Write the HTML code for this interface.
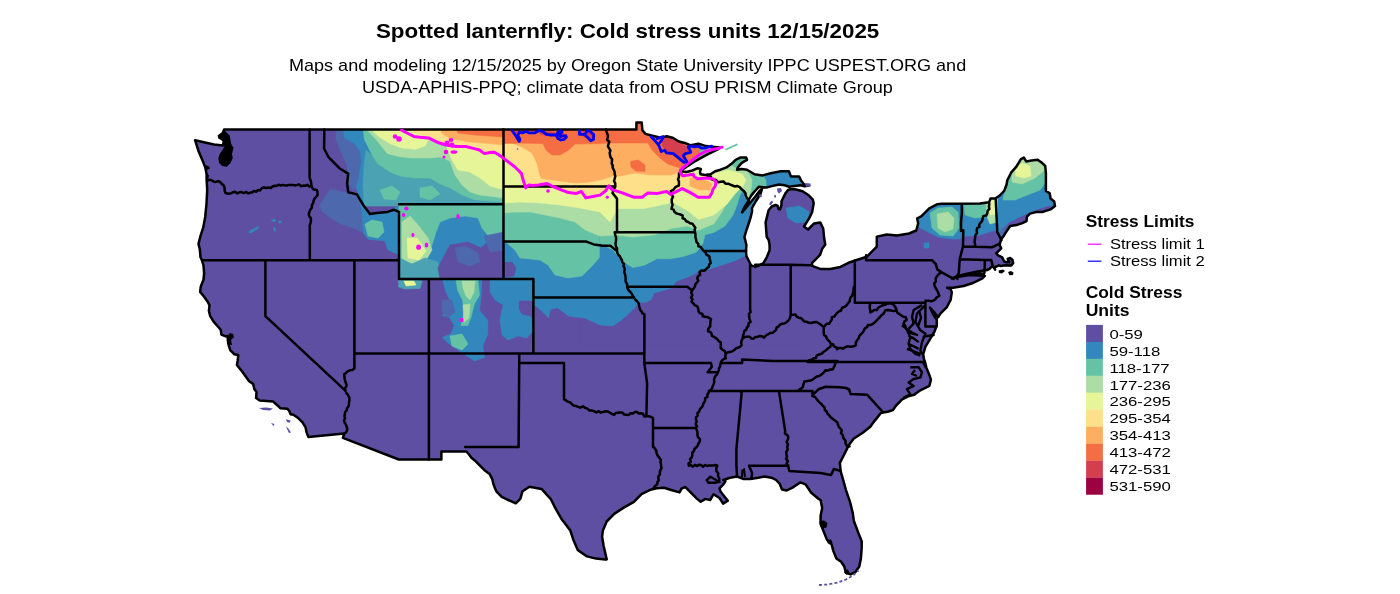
<!DOCTYPE html>
<html><head><meta charset="utf-8"><title>Spotted lanternfly: Cold stress units</title>
<style>html,body{margin:0;padding:0;background:#fff;}body{width:1400px;height:594px;position:relative;overflow:hidden;font-family:"Liberation Sans",sans-serif;}</style>
</head><body>
<svg width="1400" height="594" viewBox="0 0 1400 594" style="position:absolute;left:0;top:0">
<defs><clipPath id="us"><path d="M195.1,140.2 L205.0,142.5 L214.0,144.5 L222.7,145.6 L224.0,141.0 L222.5,134.0 L224.1,129.5 L636.4,129.5 L636.4,122.6 L641.7,122.6 L642.4,130.2 L645.5,133.9 L651.5,135.5 L660.6,137.7 L666.7,136.2 L672.7,137.7 L678.8,141.5 L684.8,143.0 L690.9,145.3 L698.5,143.8 L706.1,146.1 L712.1,146.8 L719.7,147.6 L718.2,149.1 L706.1,155.2 L693.9,162.0 L684.8,168.0 L680.3,171.1 L686.4,172.0 L692.4,170.5 L697.7,168.2 L700.8,168.9 L700.0,172.0 L700.5,174.2 L705.3,175.0 L710.6,174.2 L715.2,171.2 L720.5,169.7 L726.5,167.4 L731.8,163.6 L735.6,159.8 L740.2,157.6 L746.2,157.6 L747.0,159.8 L741.7,162.9 L737.9,167.4 L737.1,169.7 L741.7,168.9 L747.0,169.7 L750.8,172.0 L754.5,174.3 L762.6,175.4 L770.7,173.3 L780.8,171.3 L788.9,171.3 L790.9,176.4 L799.0,176.4 L801.0,180.4 L805.0,185.5 L809.1,185.5 L804.6,186.2 L800.6,185.2 L796.6,185.7 L789.1,186.8 L784.5,185.3 L779.2,184.5 L771.7,186.1 L766.4,187.6 L758.8,186.8 L755.0,191.0 L751.0,196.0 L747.0,203.0 L744.0,208.0 L742.1,212.3 L745.0,209.0 L750.0,203.0 L755.0,197.0 L759.5,191.0 L762.0,189.0 L760.5,194.0 L756.0,201.0 L752.0,208.0 L752.0,211.8 L750.5,217.9 L748.2,225.0 L746.5,230.0 L744.4,237.0 L745.2,240.0 L746.4,245.0 L746.0,250.8 L746.4,256.0 L748.9,261.0 L751.0,265.3 L755.3,266.9 L759.5,265.3 L763.7,262.7 L767.0,256.8 L769.6,250.1 L769.6,245.0 L768.7,240.0 L766.7,237.0 L765.6,222.4 L767.1,216.4 L768.6,210.3 L771.7,206.5 L775.5,205.0 L777.7,206.0 L778.4,209.0 L780.0,209.4 L781.5,205.0 L781.5,201.2 L783.0,198.2 L785.3,193.6 L788.0,190.0 L791.0,189.0 L796.0,189.5 L802.6,191.3 L808.7,195.3 L812.7,199.3 L813.7,203.4 L812.1,212.3 L809.1,218.4 L804.0,226.5 L808.1,229.5 L814.1,223.4 L820.2,222.4 L823.2,228.5 L824.2,238.6 L825.3,244.6 L822.2,248.7 L820.2,254.7 L816.2,258.8 L812.1,262.8 L812.1,265.9 L820.2,268.9 L830.3,268.9 L840.4,266.9 L848.5,262.8 L854.5,260.8 L866.7,256.8 L876.8,246.7 L876.8,236.6 L886.9,234.5 L897.0,235.6 L909.1,233.5 L916.2,230.5 L918.2,223.4 L917.2,218.4 L921.2,216.4 L929.3,208.3 L937.4,204.2 L941.4,203.8 L980.0,203.6 L989.1,202.3 L990.6,198.5 L995.2,198.5 L999.7,195.5 L1004.2,190.9 L1006.5,184.8 L1007.3,180.3 L1011.1,172.7 L1016.4,166.7 L1020.9,159.1 L1023.9,157.6 L1026.2,161.4 L1031.5,160.6 L1037.6,159.8 L1042.1,162.9 L1045.2,165.9 L1045.9,172.7 L1045.9,180.3 L1045.9,190.9 L1049.7,193.2 L1050.5,198.5 L1054.2,201.5 L1055.0,206.1 L1051.2,209.1 L1046.7,210.6 L1042.1,212.1 L1036.1,212.1 L1030.0,213.6 L1027.0,216.7 L1026.5,221.1 L1022.4,223.1 L1016.4,225.1 L1010.3,226.1 L1007.3,230.2 L1004.2,235.2 L1001.2,239.2 L1000.2,242.3 L999.7,245.3 L1001.2,248.3 L998.2,251.4 L996.2,253.4 L998.2,255.4 L1002.2,257.4 L1004.2,261.5 L1006.6,262.3 L1009.5,262.2 L1008.3,260.6 L1007.7,258.9 L1010.1,258.0 L1012.4,259.8 L1013.2,263.0 L1011.3,265.5 L1005.4,265.2 L1000.7,266.0 L998.9,265.3 L994.2,267.7 L991.8,266.5 L989.5,268.9 L987.1,270.0 L978.9,271.2 L967.1,273.6 L957.7,275.9 L952.0,278.5 L958.8,276.8 L969.4,275.1 L978.9,275.6 L984.8,275.9 L982.4,278.3 L973.0,283.0 L963.6,286.0 L953.0,287.7 L947.1,287.7 L950.6,288.9 L951.8,292.4 L950.6,300.0 L946.7,307.3 L940.6,313.3 L938.2,317.2 L934.0,312.0 L930.0,307.5 L932.5,313.0 L935.5,318.0 L936.8,319.4 L936.8,325.5 L934.5,331.5 L930.0,339.1 L925.5,346.7 L923.2,354.2 L923.9,358.8 L925.0,362.0 L926.4,367.6 L929.4,375.2 L930.9,379.7 L929.4,385.8 L920.3,390.3 L914.2,394.8 L908.2,396.4 L902.1,399.4 L896.1,405.5 L893.0,410.0 L888.5,411.5 L880.9,413.0 L874.8,420.6 L870.3,426.7 L862.7,432.7 L853.6,438.8 L849.1,444.8 L847.3,448.1 L843.3,456.2 L839.9,462.9 L840.6,471.0 L843.3,480.4 L845.9,489.8 L850.0,501.9 L852.7,512.7 L853.8,520.6 L858.5,533.2 L861.7,541.1 L861.7,547.5 L860.9,558.5 L859.3,566.5 L855.4,572.0 L850.6,574.4 L845.9,572.8 L844.3,566.5 L841.1,561.7 L836.4,558.5 L833.2,550.6 L831.6,544.3 L826.9,539.6 L823.7,531.6 L820.6,523.7 L820.6,515.8 L822.2,507.9 L820.6,500.0 L819.0,499.2 L811.0,492.5 L805.6,484.4 L800.2,482.4 L793.5,487.1 L786.7,490.5 L782.0,489.5 L779.6,483.6 L776.1,480.0 L771.4,477.7 L764.3,476.5 L758.4,477.7 L750.2,478.9 L743.1,478.9 L737.2,476.5 L730.1,477.7 L723.1,480.0 L725.4,481.2 L723.1,484.7 L719.5,488.3 L720.7,491.8 L725.4,497.7 L727.8,500.7 L723.1,503.6 L719.5,498.0 L713.6,494.2 L710.1,500.1 L705.4,498.9 L700.7,501.8 L697.1,498.9 L693.6,495.4 L688.9,490.6 L685.4,487.1 L681.8,488.3 L679.5,492.4 L671.2,490.0 L664.1,487.7 L656.7,488.2 L650.6,489.7 L641.5,494.2 L633.9,501.8 L623.3,507.9 L614.2,513.9 L606.7,521.5 L602.9,530.6 L602.1,536.7 L603.6,545.8 L606.7,559.4 L605.2,559.6 L596.0,558.6 L587.0,556.4 L577.9,550.3 L573.3,539.7 L570.3,530.6 L561.2,518.5 L555.2,507.9 L550.6,498.8 L541.5,488.9 L529.4,486.7 L522.6,491.2 L520.3,498.8 L515.8,503.3 L507.1,499.5 L501.7,496.8 L496.3,491.4 L493.6,484.7 L492.3,479.3 L489.6,473.9 L484.2,469.9 L480.2,465.8 L474.8,460.4 L471.4,457.7 L469.4,455.0 L466.4,451.5 L441.4,451.5 L441.4,459.5 L398.8,459.5 L342.9,437.8 L344.3,433.5 L308.4,437.1 L306.6,432.4 L305.6,427.4 L302.5,422.3 L298.5,418.3 L293.4,414.7 L290.4,414.2 L289.4,411.2 L287.4,408.7 L280.3,408.2 L277.3,405.2 L273.2,401.6 L259.6,400.6 L256.1,398.1 L256.5,392.0 L254.4,389.3 L253.1,383.9 L249.1,381.2 L242.3,371.8 L236.9,365.0 L237.6,361.0 L238.3,354.9 L234.2,354.2 L230.2,350.2 L228.2,343.5 L227.5,336.0 L225.7,336.4 L221.4,334.7 L220.8,330.0 L218.3,327.0 L213.6,321.6 L210.2,316.2 L208.9,310.8 L209.5,305.4 L207.5,301.4 L203.5,296.0 L200.1,291.9 L200.8,286.5 L203.5,279.8 L204.1,273.1 L203.5,265.5 L201.8,260.0 L200.5,257.3 L199.8,249.3 L198.5,243.9 L200.5,235.8 L203.2,227.7 L205.2,216.9 L206.5,203.5 L207.2,190.0 L206.6,179.3 L206.6,173.9 L205.2,167.2 L202.5,160.4 L198.5,151.0 Z"/></clipPath></defs>
<path d="M195.1,140.2 L205.0,142.5 L214.0,144.5 L222.7,145.6 L224.0,141.0 L222.5,134.0 L224.1,129.5 L636.4,129.5 L636.4,122.6 L641.7,122.6 L642.4,130.2 L645.5,133.9 L651.5,135.5 L660.6,137.7 L666.7,136.2 L672.7,137.7 L678.8,141.5 L684.8,143.0 L690.9,145.3 L698.5,143.8 L706.1,146.1 L712.1,146.8 L719.7,147.6 L718.2,149.1 L706.1,155.2 L693.9,162.0 L684.8,168.0 L680.3,171.1 L686.4,172.0 L692.4,170.5 L697.7,168.2 L700.8,168.9 L700.0,172.0 L700.5,174.2 L705.3,175.0 L710.6,174.2 L715.2,171.2 L720.5,169.7 L726.5,167.4 L731.8,163.6 L735.6,159.8 L740.2,157.6 L746.2,157.6 L747.0,159.8 L741.7,162.9 L737.9,167.4 L737.1,169.7 L741.7,168.9 L747.0,169.7 L750.8,172.0 L754.5,174.3 L762.6,175.4 L770.7,173.3 L780.8,171.3 L788.9,171.3 L790.9,176.4 L799.0,176.4 L801.0,180.4 L805.0,185.5 L809.1,185.5 L804.6,186.2 L800.6,185.2 L796.6,185.7 L789.1,186.8 L784.5,185.3 L779.2,184.5 L771.7,186.1 L766.4,187.6 L758.8,186.8 L755.0,191.0 L751.0,196.0 L747.0,203.0 L744.0,208.0 L742.1,212.3 L745.0,209.0 L750.0,203.0 L755.0,197.0 L759.5,191.0 L762.0,189.0 L760.5,194.0 L756.0,201.0 L752.0,208.0 L752.0,211.8 L750.5,217.9 L748.2,225.0 L746.5,230.0 L744.4,237.0 L745.2,240.0 L746.4,245.0 L746.0,250.8 L746.4,256.0 L748.9,261.0 L751.0,265.3 L755.3,266.9 L759.5,265.3 L763.7,262.7 L767.0,256.8 L769.6,250.1 L769.6,245.0 L768.7,240.0 L766.7,237.0 L765.6,222.4 L767.1,216.4 L768.6,210.3 L771.7,206.5 L775.5,205.0 L777.7,206.0 L778.4,209.0 L780.0,209.4 L781.5,205.0 L781.5,201.2 L783.0,198.2 L785.3,193.6 L788.0,190.0 L791.0,189.0 L796.0,189.5 L802.6,191.3 L808.7,195.3 L812.7,199.3 L813.7,203.4 L812.1,212.3 L809.1,218.4 L804.0,226.5 L808.1,229.5 L814.1,223.4 L820.2,222.4 L823.2,228.5 L824.2,238.6 L825.3,244.6 L822.2,248.7 L820.2,254.7 L816.2,258.8 L812.1,262.8 L812.1,265.9 L820.2,268.9 L830.3,268.9 L840.4,266.9 L848.5,262.8 L854.5,260.8 L866.7,256.8 L876.8,246.7 L876.8,236.6 L886.9,234.5 L897.0,235.6 L909.1,233.5 L916.2,230.5 L918.2,223.4 L917.2,218.4 L921.2,216.4 L929.3,208.3 L937.4,204.2 L941.4,203.8 L980.0,203.6 L989.1,202.3 L990.6,198.5 L995.2,198.5 L999.7,195.5 L1004.2,190.9 L1006.5,184.8 L1007.3,180.3 L1011.1,172.7 L1016.4,166.7 L1020.9,159.1 L1023.9,157.6 L1026.2,161.4 L1031.5,160.6 L1037.6,159.8 L1042.1,162.9 L1045.2,165.9 L1045.9,172.7 L1045.9,180.3 L1045.9,190.9 L1049.7,193.2 L1050.5,198.5 L1054.2,201.5 L1055.0,206.1 L1051.2,209.1 L1046.7,210.6 L1042.1,212.1 L1036.1,212.1 L1030.0,213.6 L1027.0,216.7 L1026.5,221.1 L1022.4,223.1 L1016.4,225.1 L1010.3,226.1 L1007.3,230.2 L1004.2,235.2 L1001.2,239.2 L1000.2,242.3 L999.7,245.3 L1001.2,248.3 L998.2,251.4 L996.2,253.4 L998.2,255.4 L1002.2,257.4 L1004.2,261.5 L1006.6,262.3 L1009.5,262.2 L1008.3,260.6 L1007.7,258.9 L1010.1,258.0 L1012.4,259.8 L1013.2,263.0 L1011.3,265.5 L1005.4,265.2 L1000.7,266.0 L998.9,265.3 L994.2,267.7 L991.8,266.5 L989.5,268.9 L987.1,270.0 L978.9,271.2 L967.1,273.6 L957.7,275.9 L952.0,278.5 L958.8,276.8 L969.4,275.1 L978.9,275.6 L984.8,275.9 L982.4,278.3 L973.0,283.0 L963.6,286.0 L953.0,287.7 L947.1,287.7 L950.6,288.9 L951.8,292.4 L950.6,300.0 L946.7,307.3 L940.6,313.3 L938.2,317.2 L934.0,312.0 L930.0,307.5 L932.5,313.0 L935.5,318.0 L936.8,319.4 L936.8,325.5 L934.5,331.5 L930.0,339.1 L925.5,346.7 L923.2,354.2 L923.9,358.8 L925.0,362.0 L926.4,367.6 L929.4,375.2 L930.9,379.7 L929.4,385.8 L920.3,390.3 L914.2,394.8 L908.2,396.4 L902.1,399.4 L896.1,405.5 L893.0,410.0 L888.5,411.5 L880.9,413.0 L874.8,420.6 L870.3,426.7 L862.7,432.7 L853.6,438.8 L849.1,444.8 L847.3,448.1 L843.3,456.2 L839.9,462.9 L840.6,471.0 L843.3,480.4 L845.9,489.8 L850.0,501.9 L852.7,512.7 L853.8,520.6 L858.5,533.2 L861.7,541.1 L861.7,547.5 L860.9,558.5 L859.3,566.5 L855.4,572.0 L850.6,574.4 L845.9,572.8 L844.3,566.5 L841.1,561.7 L836.4,558.5 L833.2,550.6 L831.6,544.3 L826.9,539.6 L823.7,531.6 L820.6,523.7 L820.6,515.8 L822.2,507.9 L820.6,500.0 L819.0,499.2 L811.0,492.5 L805.6,484.4 L800.2,482.4 L793.5,487.1 L786.7,490.5 L782.0,489.5 L779.6,483.6 L776.1,480.0 L771.4,477.7 L764.3,476.5 L758.4,477.7 L750.2,478.9 L743.1,478.9 L737.2,476.5 L730.1,477.7 L723.1,480.0 L725.4,481.2 L723.1,484.7 L719.5,488.3 L720.7,491.8 L725.4,497.7 L727.8,500.7 L723.1,503.6 L719.5,498.0 L713.6,494.2 L710.1,500.1 L705.4,498.9 L700.7,501.8 L697.1,498.9 L693.6,495.4 L688.9,490.6 L685.4,487.1 L681.8,488.3 L679.5,492.4 L671.2,490.0 L664.1,487.7 L656.7,488.2 L650.6,489.7 L641.5,494.2 L633.9,501.8 L623.3,507.9 L614.2,513.9 L606.7,521.5 L602.9,530.6 L602.1,536.7 L603.6,545.8 L606.7,559.4 L605.2,559.6 L596.0,558.6 L587.0,556.4 L577.9,550.3 L573.3,539.7 L570.3,530.6 L561.2,518.5 L555.2,507.9 L550.6,498.8 L541.5,488.9 L529.4,486.7 L522.6,491.2 L520.3,498.8 L515.8,503.3 L507.1,499.5 L501.7,496.8 L496.3,491.4 L493.6,484.7 L492.3,479.3 L489.6,473.9 L484.2,469.9 L480.2,465.8 L474.8,460.4 L471.4,457.7 L469.4,455.0 L466.4,451.5 L441.4,451.5 L441.4,459.5 L398.8,459.5 L342.9,437.8 L344.3,433.5 L308.4,437.1 L306.6,432.4 L305.6,427.4 L302.5,422.3 L298.5,418.3 L293.4,414.7 L290.4,414.2 L289.4,411.2 L287.4,408.7 L280.3,408.2 L277.3,405.2 L273.2,401.6 L259.6,400.6 L256.1,398.1 L256.5,392.0 L254.4,389.3 L253.1,383.9 L249.1,381.2 L242.3,371.8 L236.9,365.0 L237.6,361.0 L238.3,354.9 L234.2,354.2 L230.2,350.2 L228.2,343.5 L227.5,336.0 L225.7,336.4 L221.4,334.7 L220.8,330.0 L218.3,327.0 L213.6,321.6 L210.2,316.2 L208.9,310.8 L209.5,305.4 L207.5,301.4 L203.5,296.0 L200.1,291.9 L200.8,286.5 L203.5,279.8 L204.1,273.1 L203.5,265.5 L201.8,260.0 L200.5,257.3 L199.8,249.3 L198.5,243.9 L200.5,235.8 L203.2,227.7 L205.2,216.9 L206.5,203.5 L207.2,190.0 L206.6,179.3 L206.6,173.9 L205.2,167.2 L202.5,160.4 L198.5,151.0 Z" fill="#5E4FA2"/>
<g clip-path="url(#us)"><path d="M319.7,204.4 L330.3,189.2 L345.5,192.3 L353.0,192.3 L360.6,201.4 L369.7,213.5 L378.8,213.5 L390.9,210.5 L398.5,205.9 L398.5,255.0 L387.9,249.8 L384.8,240.8 L368.2,239.2 L363.6,233.2 L354.5,228.6 L345.5,225.6 L337.9,222.6 L330.3,218.0 L321.2,210.5Z" fill="#4E68AD" stroke="#4E68AD" stroke-width="0.6"/><path d="M336.0,125.0 L343.0,125.0 L344.3,137.9 L354.3,143.6 L360.0,150.8 L361.5,160.8 L360.0,170.8 L358.6,179.4 L355.8,188.0 L352.0,190.0 L348.0,180.0 L347.0,165.0 L340.0,150.0 L336.0,140.0Z" fill="#4E68AD" stroke="#4E68AD" stroke-width="0.6"/><path d="M342.9,125.0 L344.3,137.9 L354.3,143.6 L360.0,150.8 L361.5,160.8 L360.0,170.8 L358.6,179.4 L355.8,188.0 L358.6,193.7 L362.0,205.0 L400.0,205.0 L400.0,210.0 L505.0,210.0 L505.0,125.0Z" fill="#3288BD" stroke="#3288BD" stroke-width="0.6"/><path d="M366.0,150.0 L372.9,156.5 L378.0,164.0 L390.0,172.0 L400.0,176.0 L415.0,178.0 L430.0,178.0 L440.0,184.0 L450.0,188.0 L462.0,195.0 L475.0,200.0 L490.0,201.0 L505.0,202.0 L505.0,206.0 L400.0,206.0 L364.0,206.0 L363.0,185.0 L364.0,165.0Z" fill="#4AA2B2" stroke="#4AA2B2" stroke-width="0.6"/><path d="M380.0,190.0 L392.0,186.0 L400.0,192.0 L396.0,200.0 L384.0,199.0Z" fill="#66C2A5" stroke="#66C2A5" stroke-width="0.6"/><path d="M420.0,188.0 L432.0,186.0 L440.0,194.0 L430.0,200.0 L420.0,197.0Z" fill="#66C2A5" stroke="#66C2A5" stroke-width="0.6"/><path d="M360.6,201.4 L369.7,213.5 L378.8,213.5 L390.9,210.5 L398.5,205.9 L400.0,206.0 L400.0,255.0 L387.9,249.8 L384.8,240.8 L368.2,239.2 L363.6,233.2 L362.0,215.0Z" fill="#3288BD" stroke="#3288BD" stroke-width="0.6"/><path d="M365.0,224.0 L372.0,220.0 L382.0,222.0 L384.0,232.0 L378.0,238.0 L368.0,236.0Z" fill="#66C2A5" stroke="#66C2A5" stroke-width="0.6"/><path d="M362.9,125.0 L364.3,139.3 L368.6,147.9 L372.9,156.5 L378.0,164.0 L390.0,172.0 L400.0,176.0 L415.0,178.0 L430.0,178.0 L440.0,184.0 L450.0,188.0 L462.0,195.0 L475.0,200.0 L490.0,201.0 L505.0,202.0 L505.0,125.0Z" fill="#66C2A5" stroke="#66C2A5" stroke-width="0.6"/><path d="M367.0,125.0 L368.0,131.0 L377.2,140.7 L387.2,153.6 L398.7,156.5 L410.0,157.9 L430.0,157.9 L440.0,157.0 L450.0,161.0 L455.0,175.0 L462.0,185.0 L470.0,192.0 L480.0,195.0 L505.0,198.0 L505.0,125.0Z" fill="#ABDDA4" stroke="#ABDDA4" stroke-width="0.6"/><path d="M372.9,125.0 L373.0,131.0 L378.6,136.4 L390.0,143.6 L401.5,147.9 L415.8,149.3 L425.0,146.0 L428.0,140.0 L418.7,133.6 L410.0,130.7 L408.0,125.0Z" fill="#E6F598" stroke="#E6F598" stroke-width="0.6"/><path d="M445.8,145.0 L452.0,160.0 L458.0,170.0 L470.0,172.0 L480.0,178.0 L490.0,186.0 L505.0,190.0 L505.0,158.0 L494.4,153.2 L484.4,154.6 L474.4,149.6 L465.8,147.5 L455.8,147.5Z" fill="#E6F598" stroke="#E6F598" stroke-width="0.6"/><path d="M408.0,125.0 L410.0,130.7 L418.7,133.6 L428.6,137.9 L437.2,142.2 L445.8,145.5 L455.8,147.5 L465.8,147.5 L474.4,149.6 L484.4,154.6 L494.4,153.2 L505.0,158.5 L505.0,125.0Z" fill="#FEE08B" stroke="#FEE08B" stroke-width="0.6"/><path d="M441.5,125.0 L441.5,133.0 L450.0,138.6 L470.0,142.0 L490.0,143.6 L505.0,145.0 L505.0,125.0Z" fill="#FDAE61" stroke="#FDAE61" stroke-width="0.6"/><path d="M455.0,125.0 L458.0,133.0 L475.0,135.0 L490.0,136.0 L505.0,137.0 L505.0,125.0Z" fill="#F46D43" stroke="#F46D43" stroke-width="0.6"/><path d="M399.0,204.0 L504.0,204.0 L504.0,279.0 L399.0,279.0Z" fill="#3288BD" stroke="#3288BD" stroke-width="0.6"/><path d="M399.0,204.0 L504.0,204.0 L504.0,242.0 L490.0,238.0 L482.0,228.0 L478.0,218.0 L465.0,216.0 L450.0,218.0 L440.0,222.0 L436.0,232.0 L432.0,245.0 L425.0,258.0 L412.0,264.0 L399.0,262.0Z" fill="#66C2A5" stroke="#66C2A5" stroke-width="0.6"/><path d="M402.0,222.0 L410.0,216.0 L418.0,225.0 L428.0,238.0 L432.0,250.0 L425.0,262.0 L410.0,264.0 L402.0,258.0Z" fill="#ABDDA4" stroke="#ABDDA4" stroke-width="0.6"/><path d="M407.0,238.0 L417.0,238.0 L426.0,251.0 L419.0,260.0 L408.0,258.0Z" fill="#E6F598" stroke="#E6F598" stroke-width="0.6"/><path d="M399.0,258.0 L412.0,264.0 L425.0,258.0 L438.0,262.0 L440.0,279.0 L399.0,279.0Z" fill="#4AA2B2" stroke="#4AA2B2" stroke-width="0.6"/><path d="M440.0,279.0 L438.0,268.0 L444.0,256.0 L450.0,245.0 L468.0,242.0 L481.0,248.0 L490.0,240.0 L504.0,240.0 L504.0,280.0Z" fill="#5E4FA2" stroke="#5E4FA2" stroke-width="0.6"/><path d="M484.0,236.0 L504.0,232.0 L504.0,250.0 L490.0,252.0Z" fill="#4E68AD" stroke="#4E68AD" stroke-width="0.6"/><path d="M455.0,248.0 L466.0,246.0 L478.0,253.0 L480.0,262.0 L470.0,266.0 L458.0,262.0Z" fill="#4E68AD" stroke="#4E68AD" stroke-width="0.6"/><path d="M398.6,279.3 L410.0,278.0 L422.2,281.0 L420.0,288.5 L405.0,289.0 L398.6,287.0Z" fill="#4AA2B2" stroke="#4AA2B2" stroke-width="0.6"/><path d="M404.0,281.0 L414.0,281.0 L416.0,285.0 L406.0,286.0Z" fill="#E6F598" stroke="#E6F598" stroke-width="0.6"/><path d="M442.4,279.0 L482.0,279.0 L481.1,295.3 L479.5,310.4 L487.9,320.5 L487.9,334.0 L482.8,345.8 L484.5,357.6 L474.4,361.0 L464.3,354.2 L449.2,344.1 L442.4,337.4 L450.8,334.0 L454.2,325.6 L449.2,317.2 L442.4,315.5 L450.8,302.0 L445.8,291.9Z" fill="#3288BD" stroke="#3288BD" stroke-width="0.6"/><path d="M442.0,300.0 L452.0,300.0 L455.0,312.0 L448.0,318.0 L442.0,312.0Z" fill="#4E68AD" stroke="#4E68AD" stroke-width="0.6"/><path d="M455.9,279.0 L477.8,279.0 L479.5,295.3 L474.4,303.7 L471.0,317.2 L467.7,325.6 L460.9,325.6 L464.3,312.1 L462.6,300.3 L457.6,290.2Z" fill="#66C2A5" stroke="#66C2A5" stroke-width="0.6"/><path d="M462.0,281.0 L475.0,281.0 L474.0,292.0 L470.0,300.0 L466.0,296.0 L463.0,288.0Z" fill="#ABDDA4" stroke="#ABDDA4" stroke-width="0.6"/><path d="M463.0,305.0 L470.0,304.0 L469.0,318.0 L464.0,322.0Z" fill="#ABDDA4" stroke="#ABDDA4" stroke-width="0.6"/><path d="M450.0,336.0 L462.0,334.0 L468.0,344.0 L462.0,350.0 L452.0,346.0Z" fill="#66C2A5" stroke="#66C2A5" stroke-width="0.6"/><path d="M489.6,279.0 L533.5,279.0 L533.5,304.3 L540.0,309.4 L548.6,318.0 L550.3,309.4 L557.2,307.7 L569.2,316.3 L584.6,318.0 L600.0,324.9 L617.2,326.6 L634.3,312.9 L642.9,300.9 L651.4,294.0 L660.0,290.6 L660.0,270.0 L505.0,270.0 L505.0,279.0Z" fill="#3288BD" stroke="#3288BD" stroke-width="0.6"/><path d="M490.0,279.0 L533.5,279.0 L533.5,300.0 L530.0,312.0 L533.5,330.0 L527.0,338.0 L518.0,336.0 L508.0,340.0 L502.0,335.0 L500.0,320.0 L503.0,305.0 L495.0,300.0 L490.0,292.0Z" fill="#3288BD" stroke="#3288BD" stroke-width="0.6"/><path d="M519.4,301.0 L531.4,300.9 L533.5,310.0 L531.4,316.3 L522.0,314.0 L519.0,308.0Z" fill="#5E4FA2" stroke="#5E4FA2" stroke-width="0.6"/><path d="M503.0,210.0 L620.0,210.0 L620.0,290.0 L503.0,290.0Z" fill="#3288BD" stroke="#3288BD" stroke-width="0.6"/><path d="M503.5,262.5 L512.0,262.0 L516.0,268.0 L514.0,276.0 L503.5,277.0Z" fill="#5E4FA2" stroke="#5E4FA2" stroke-width="0.6"/><path d="M503.5,213.0 L515.0,212.0 L530.0,212.0 L545.0,215.0 L560.0,218.0 L575.0,222.0 L585.0,230.0 L600.0,236.0 L616.0,236.0 L615.0,243.0 L610.0,250.0 L600.0,257.0 L592.0,266.0 L582.0,276.0 L568.0,278.0 L555.0,275.0 L548.0,265.0 L540.0,260.0 L530.0,259.0 L520.0,258.0 L515.0,250.0 L507.0,243.0 L503.5,240.0Z" fill="#66C2A5" stroke="#66C2A5" stroke-width="0.6"/><path d="M600.0,236.0 L725.0,195.0 L740.0,185.0 L752.0,180.0 L752.0,310.0 L600.0,310.0Z" fill="#3288BD" stroke="#3288BD" stroke-width="0.6"/><path d="M600.0,243.5 L613.1,250.0 L621.9,261.0 L632.8,267.5 L643.8,265.4 L656.9,258.8 L670.0,258.8 L683.2,256.6 L696.3,252.2 L702.9,243.5 L705.0,234.7 L713.8,232.5 L725.0,226.0 L733.0,215.0 L737.0,205.0 L740.0,195.0 L745.0,188.0 L745.0,180.0 L600.0,180.0Z" fill="#66C2A5" stroke="#66C2A5" stroke-width="0.6"/><path d="M580.0,345.0 L580.0,320.7 L591.8,326.6 L603.6,327.8 L613.0,326.6 L621.3,320.7 L629.5,313.6 L635.4,307.7 L638.9,303.0 L646.0,303.0 L651.9,299.5 L654.3,293.6 L662.5,291.2 L670.8,288.9 L674.3,285.3 L676.7,281.8 L686.1,278.3 L694.3,274.7 L697.9,272.4 L709.4,269.7 L722.6,265.4 L735.7,261.0 L744.5,256.6 L752.0,253.0 L800.0,250.0 L800.0,345.0Z" fill="#5E4FA2" stroke="#5E4FA2" stroke-width="0.6"/><path d="M503.5,200.0 L615.0,200.0 L616.0,235.0 L632.8,236.9 L654.7,234.7 L672.2,228.2 L687.5,226.0 L698.5,230.3 L713.8,223.8 L722.0,212.0 L728.0,200.0 L733.0,192.0 L737.0,186.0 L737.0,180.0 L503.5,180.0Z" fill="#ABDDA4" stroke="#ABDDA4" stroke-width="0.6"/><path d="M503.5,200.0 L503.5,213.0 L515.0,212.0 L530.0,212.0 L545.0,215.0 L560.0,218.0 L575.0,222.0 L585.0,230.0 L600.0,236.0 L616.0,235.0 L616.0,200.0Z" fill="#ABDDA4" stroke="#ABDDA4" stroke-width="0.6"/><path d="M503.5,150.0 L503.5,203.0 L520.0,202.0 L540.0,203.0 L560.0,205.0 L580.0,208.0 L600.0,212.0 L610.0,222.0 L617.5,208.5 L643.8,208.5 L665.7,204.1 L672.2,201.9 L687.5,210.6 L698.5,219.4 L713.8,215.0 L727.0,204.1 L735.7,193.1 L742.3,186.6 L742.0,175.0 L530.0,175.0 L520.0,160.0 L503.5,150.0Z" fill="#E6F598" stroke="#E6F598" stroke-width="0.6"/><path d="M680.0,168.0 L700.0,164.0 L716.0,168.0 L718.0,180.0 L700.0,180.0 L685.0,178.0Z" fill="#E6F598" stroke="#E6F598" stroke-width="0.6"/><path d="M503.5,125.0 L503.5,158.5 L508.7,162.2 L514.3,166.5 L521.5,173.6 L522.9,179.3 L525.7,187.9 L528.6,185.1 L538.6,185.1 L547.2,183.6 L552.9,186.5 L560.0,189.4 L567.2,192.2 L575.8,193.6 L581.5,191.5 L585.8,197.9 L593.0,196.5 L600.1,195.1 L605.8,190.8 L608.7,185.8 L611.6,189.4 L613.6,190.1 L622.2,192.9 L633.6,197.2 L642.2,197.2 L647.9,192.9 L656.5,193.6 L666.5,191.5 L670.8,194.4 L679.4,190.1 L682.2,188.6 L690.8,192.9 L698.0,197.2 L709.4,197.2 L712.1,192.4 L712.9,189.4 L715.2,186.4 L715.9,181.8 L712.9,178.8 L706.8,178.0 L697.7,178.8 L694.0,176.5 L693.2,174.2 L688.6,175.0 L682.6,175.8 L680.3,172.7 L685.1,165.8 L693.7,160.0 L705.1,152.9 L713.7,150.0 L719.4,147.9 L720.0,120.0 L503.5,120.0Z" fill="#FEE08B" stroke="#FEE08B" stroke-width="0.6"/><path d="M503.5,125.0 L503.5,141.0 L512.0,143.0 L522.0,147.0 L532.0,153.0 L537.0,163.0 L539.0,172.0 L541.0,178.0 L545.0,179.0 L560.0,181.0 L575.0,183.0 L590.0,182.0 L600.0,180.0 L607.0,178.0 L612.0,176.0 L620.0,176.0 L635.0,173.0 L650.0,175.0 L672.0,175.0 L680.0,171.0 L690.0,162.0 L705.0,152.0 L719.0,147.0 L719.0,120.0 L503.5,120.0Z" fill="#FDAE61" stroke="#FDAE61" stroke-width="0.6"/><path d="M690.0,178.0 L705.0,180.0 L712.0,184.0 L710.0,190.0 L700.0,190.0 L690.0,186.0Z" fill="#FDAE61" stroke="#FDAE61" stroke-width="0.6"/><path d="M503.5,125.0 L503.5,143.6 L520.0,143.0 L543.0,143.6 L546.0,150.0 L552.0,155.0 L560.0,155.0 L568.6,150.0 L575.0,144.0 L600.0,143.6 L607.9,142.9 L620.0,142.9 L647.9,142.9 L652.0,150.0 L660.0,158.0 L668.0,164.0 L680.0,168.0 L690.0,160.0 L700.0,152.0 L719.0,147.0 L719.0,120.0 L503.5,120.0Z" fill="#F46D43" stroke="#F46D43" stroke-width="0.6"/><path d="M630.7,161.5 L638.0,160.0 L645.0,165.0 L645.0,171.5 L636.0,171.0 L631.0,167.0Z" fill="#F46D43" stroke="#F46D43" stroke-width="0.6"/><path d="M662.2,138.6 L669.4,136.4 L679.4,141.5 L686.5,147.2 L689.4,151.5 L685.1,155.8 L683.0,161.5 L676.5,155.8 L669.4,152.9 L665.1,150.0 L662.2,145.7Z" fill="#D53E4F" stroke="#D53E4F" stroke-width="0.6"/><path d="M540.0,132.0 L548.0,131.5 L555.0,132.5 L556.0,135.0 L548.0,135.5 L541.0,134.5Z" fill="#D53E4F" stroke="#D53E4F" stroke-width="0.6"/><path d="M514.0,131.5 L518.0,131.5 L517.0,134.0 L515.0,134.0Z" fill="#D53E4F" stroke="#D53E4F" stroke-width="0.6"/><path d="M557.5,131.0 L563.0,132.0 L565.0,136.0 L560.0,138.5 L557.0,136.0Z" fill="#D53E4F" stroke="#D53E4F" stroke-width="0.6"/><path d="M579.0,131.0 L586.0,131.0 L592.0,134.0 L593.0,138.0 L588.0,138.5 L581.0,135.0Z" fill="#D53E4F" stroke="#D53E4F" stroke-width="0.6"/><path d="M744.0,206.0 L760.0,186.0 L764.0,188.0 L754.0,212.0 L746.0,214.0Z" fill="#3288BD" stroke="#3288BD" stroke-width="0.6"/><path d="M700.0,172.0 L707.0,174.9 L713.3,179.9 L720.7,181.8 L730.0,184.5 L741.4,186.8 L745.2,191.4 L745.2,197.4 L748.2,199.7 L750.0,193.0 L758.0,188.0 L765.0,188.5 L772.0,186.5 L783.0,185.5 L790.0,187.5 L800.0,186.0 L809.0,186.5 L830.0,186.5 L830.0,140.0 L700.0,140.0 L700.0,172.0Z" fill="#3288BD" stroke="#3288BD" stroke-width="0.6"/><path d="M700.0,172.0 L707.0,174.9 L713.3,179.9 L720.7,181.8 L730.0,184.5 L741.4,186.8 L745.2,191.4 L745.2,197.4 L748.2,199.7 L750.0,193.0 L758.0,188.0 L765.0,188.5 L766.0,188.2 L766.0,180.0 L760.0,172.0 L760.0,140.0 L700.0,140.0 L700.0,172.0Z" fill="#66C2A5" stroke="#66C2A5" stroke-width="0.6"/><path d="M700.0,172.0 L707.0,174.9 L713.3,179.9 L720.7,181.8 L730.0,184.5 L741.4,186.8 L745.2,191.4 L745.2,197.4 L748.2,199.7 L750.0,193.0 L750.7,192.5 L752.0,180.0 L748.0,172.0 L735.0,168.0 L724.0,160.0 L700.0,165.0 L700.0,172.0Z" fill="#ABDDA4" stroke="#ABDDA4" stroke-width="0.6"/><path d="M713.5,179.9 L720.7,181.8 L730.0,184.5 L741.4,186.8 L742.1,187.7 L746.0,180.0 L742.0,174.0 L728.0,170.0 L712.0,174.0 L713.5,179.9Z" fill="#E6F598" stroke="#E6F598" stroke-width="0.6"/><path d="M786.0,208.0 L800.0,206.0 L809.0,212.0 L808.0,222.0 L796.0,223.0 L788.0,218.0Z" fill="#3288BD" stroke="#3288BD" stroke-width="0.6"/><path d="M916.0,222.0 L920.0,213.0 L933.0,205.6 L960.6,203.7 L960.6,238.9 L951.0,239.0 L938.0,237.0 L927.0,231.5 L920.0,228.0Z" fill="#3288BD" stroke="#3288BD" stroke-width="0.6"/><path d="M924.0,243.0 L929.0,242.6 L929.0,248.0 L924.0,248.0Z" fill="#3288BD" stroke="#3288BD" stroke-width="0.6"/><path d="M930.0,213.0 L938.0,208.0 L952.0,207.0 L958.0,212.0 L959.0,228.0 L953.0,236.0 L940.0,235.0 L932.0,228.0Z" fill="#66C2A5" stroke="#66C2A5" stroke-width="0.6"/><path d="M937.0,214.0 L948.0,212.0 L954.0,218.0 L953.0,229.0 L945.0,232.0 L938.0,228.0Z" fill="#ABDDA4" stroke="#ABDDA4" stroke-width="0.6"/><path d="M960.6,203.7 L990.0,198.0 L1000.0,195.0 L1005.0,185.0 L1012.0,170.0 L1020.0,156.0 L1046.0,158.0 L1048.0,190.0 L1058.0,205.0 L1040.0,212.0 L1020.0,220.0 L1005.0,228.0 L997.0,240.0 L990.0,246.0 L975.0,247.0 L962.0,247.0Z" fill="#3288BD" stroke="#3288BD" stroke-width="0.6"/><path d="M962.0,237.0 L979.0,236.0 L994.0,231.0 L1000.0,233.0 L998.0,248.0 L962.0,248.0Z" fill="#5E4FA2" stroke="#5E4FA2" stroke-width="0.6"/><path d="M995.0,240.0 L1001.0,231.0 L1009.0,223.0 L1020.0,217.5 L1034.0,211.0 L1048.0,206.5 L1060.0,206.0 L1060.0,242.0 L995.0,245.0Z" fill="#5E4FA2" stroke="#5E4FA2" stroke-width="0.6"/><path d="M997.0,236.0 L1003.0,228.0 L1008.0,224.0 L1004.0,232.0 L999.0,240.0Z" fill="#4E68AD" stroke="#4E68AD" stroke-width="0.6"/><path d="M1003.0,200.0 L1005.0,190.0 L1012.0,170.0 L1020.0,156.0 L1046.0,158.0 L1046.0,182.0 L1040.0,190.0 L1030.0,194.0 L1015.0,200.0Z" fill="#66C2A5" stroke="#66C2A5" stroke-width="0.6"/><path d="M1012.0,182.0 L1012.0,175.0 L1018.0,160.0 L1025.0,156.0 L1046.0,158.0 L1045.0,170.0 L1035.0,178.0 L1022.0,184.0Z" fill="#ABDDA4" stroke="#ABDDA4" stroke-width="0.6"/><path d="M1015.0,168.0 L1022.0,163.0 L1030.0,166.0 L1031.0,176.0 L1024.0,178.0 L1016.0,176.0Z" fill="#E6F598" stroke="#E6F598" stroke-width="0.6"/><path d="M964.0,204.0 L990.0,198.0 L996.0,199.0 L994.0,212.0 L985.0,217.0 L975.0,218.0 L965.0,215.0Z" fill="#66C2A5" stroke="#66C2A5" stroke-width="0.6"/><path d="M987.0,199.0 L997.0,197.0 L997.0,222.0 L990.0,224.0 L986.0,214.0Z" fill="#ABDDA4" stroke="#ABDDA4" stroke-width="0.6"/><path d="M988.0,199.0 L997.0,197.0 L997.0,214.0 L990.0,215.0Z" fill="#E6F598" stroke="#E6F598" stroke-width="0.6"/></g>
<path d="M207.2,180.5 L209.6,179.7 L212.0,180.6 L213.9,181.7 L215.9,181.9 L218.1,181.1 L220.0,182.0 L222.0,184.0 L224.0,186.0 L224.6,188.2 L224.6,190.6 L225.4,192.8 L228.0,193.7 L230.8,193.4 L232.9,192.3 L235.0,191.8 L237.4,193.4 L239.4,192.2 L241.6,192.1 L243.7,193.1 L246.3,191.9 L248.3,193.4 L250.2,192.6 L252.3,192.5 L253.8,190.9 L256.2,191.7 L257.8,190.1 L260.2,190.4 L261.9,188.0 L264.0,187.5 L266.5,188.0 L268.6,187.4 L270.8,188.0 L272.6,186.5 L274.6,185.8 L276.6,186.0 L278.5,184.8 L280.7,185.5 L282.7,184.9 L284.8,185.4 L286.8,185.5 L288.9,184.9 L290.9,184.9 L293.0,184.9 L295.0,185.4 L297.1,185.0 L299.1,184.4 L301.2,186.2 L303.2,185.6 L305.3,185.8 L307.3,184.8 L309.4,186.6 L311.4,185.5 M309.6,129.5 L309.6,177.7 M309.6,177.7 L311.0,181.8 L311.4,185.5 M311.4,185.5 L312.2,187.9 L313.7,189.5 L316.7,189.9 L317.5,192.2 L317.6,194.9 L316.0,197.0 L314.4,198.8 L313.6,200.9 L313.1,203.2 L311.9,205.2 L311.8,207.7 L310.3,209.7 L309.4,211.8 L308.8,214.1 L309.3,216.4 L310.9,218.3 L310.9,220.7 L310.4,223.4 L309.6,226.0 M309.8,226.6 L309.8,260.2 M324.3,129.5 L324.1,148.5 L328.5,157.2 L339.4,168.2 L348.2,173.6 L347.1,183.5 L348.2,192.2 L356.9,194.4 L363.5,205.4 L370.0,214.1 L376.6,213.0 L387.6,211.9 L394.1,209.8 L399.1,212.0 M399.0,213.5 L399.0,278.9 M399.0,204.2 L503.5,204.2 M503.5,129.5 L503.5,278.9 M399.0,278.9 L533.4,278.9 M202.6,260.2 L399.0,260.2 M265.4,260.2 L265.4,316.2 L345.6,390.9 M354.4,260.2 L354.4,368.5 M354.4,368.5 L352.3,370.0 L349.8,370.3 L347.5,371.3 L346.1,373.0 L344.3,374.1 L344.4,376.7 L344.7,379.2 L345.3,381.6 L346.3,383.9 L346.5,386.2 L344.8,388.6 L345.6,390.9 M346.4,393.0 L348.0,395.1 L349.3,397.3 L349.5,400.0 L349.1,402.1 L349.0,404.3 L348.5,406.4 L347.0,408.2 L346.7,410.3 L345.1,412.0 L344.9,414.1 L344.4,416.1 L345.1,418.4 L344.0,420.3 L344.5,422.3 L345.7,424.2 L346.5,426.2 L347.2,428.1 L347.0,430.4 L346.1,432.4 L344.3,433.5 M354.4,353.6 L644.3,353.6 M428.9,278.9 L428.9,459.5 M533.4,278.9 L533.4,353.6 M519.2,353.6 L519.2,362.9 L518.6,447.0 L465.2,447.0 M519.2,362.9 L564.0,362.9 L564.0,399.2 M564.0,399.2 L565.9,400.4 L567.7,401.6 L570.0,402.2 L571.6,404.0 L573.4,405.5 L575.9,405.9 L578.1,406.9 L580.2,407.7 L582.9,406.3 L584.9,407.8 L587.4,408.6 L589.5,410.5 L592.4,410.6 L594.3,411.3 L596.3,412.4 L598.7,411.1 L600.6,412.4 L603.0,412.0 L605.5,411.3 L608.0,411.5 L610.0,412.7 L611.9,413.9 L614.0,414.9 L615.6,413.1 L617.7,412.7 L620.0,412.4 L622.3,412.6 L624.2,414.5 L626.5,414.8 L628.9,414.9 L630.6,413.2 L633.2,413.4 L634.9,411.9 L637.1,411.9 L638.6,413.6 L640.9,413.3 L643.0,413.8 L644.2,416.4 L646.4,416.3 L648.7,416.3 L650.9,416.9 L653.0,418.0 M503.5,186.6 L615.3,186.6 M503.5,241.6 L586.4,241.6 L593.8,244.4 L602.8,245.7 L610.3,245.7 L617.0,251.1 M533.4,297.6 L634.0,297.6 M617.0,251.1 L617.4,253.2 L618.4,255.0 L620.0,256.5 L620.7,258.3 L621.9,260.0 L622.2,262.1 L624.0,263.6 L623.4,266.0 L624.4,267.7 L624.7,269.8 L624.2,272.0 L624.9,274.0 L625.5,276.4 L625.6,278.9 L625.6,281.6 L627.1,284.0 L627.1,286.7 L627.7,288.8 L628.9,290.5 L630.4,292.0 L631.8,293.7 L632.7,295.8 L634.0,297.6 L635.3,299.7 L637.1,301.3 L638.7,303.4 L639.1,306.0 L640.1,309.7 L641.5,311.4 L642.5,313.3 L644.4,314.4 M644.4,314.4 L644.4,353.6 M644.3,353.6 L644.3,362.9 L647.1,383.5 L646.4,416.3 M653.0,418.0 L653.0,447.0 M653.7,447.0 L655.0,448.8 L656.3,450.7 L656.5,453.0 L657.7,455.7 L659.5,458.0 L660.9,459.8 L660.4,462.0 L661.0,464.0 L661.1,466.0 L661.6,468.1 L660.5,470.0 L659.8,472.0 L660.1,474.3 L658.5,476.0 L658.3,478.0 L658.8,480.2 L657.5,482.0 L657.0,484.5 L655.0,486.0 L653.6,488.2 M653.0,427.9 L695.9,427.9 M688.8,465.7 L690.8,465.0 L692.9,466.7 L694.9,464.8 L696.9,466.1 L699.0,464.7 L701.0,465.1 L703.0,466.7 L705.1,465.0 L707.1,466.0 L709.1,465.6 L711.2,465.5 L713.2,465.6 L715.3,465.0 L717.3,465.7 L716.2,468.4 L716.5,471.3 L718.2,473.3 L718.0,475.9 L719.2,478.3 L719.2,481.0 M606.0,129.5 L606.5,131.5 L607.1,133.5 L608.0,135.5 L607.6,137.7 L607.1,139.9 L609.3,141.8 L608.5,144.1 L607.9,146.3 L609.1,148.3 L610.4,150.4 L609.7,152.9 L610.0,155.2 L610.6,157.4 L612.1,159.2 L611.9,161.4 L611.7,163.6 L612.7,165.4 L612.6,167.6 L613.6,169.5 L614.6,171.7 L614.7,174.0 L615.3,176.3 L614.7,178.6 L614.0,181.0 L615.2,183.2 L615.3,186.6 M615.3,186.6 L612.5,193.0 L617.0,198.6 L617.0,232.2 M614.7,232.2 L615.3,235.1 L616.2,237.8 L616.0,240.6 L615.5,243.4 L615.8,246.0 L617.1,248.4 L617.0,251.1 M614.7,232.2 L695.0,232.2 M681.2,172.1 L678.9,173.4 L679.0,175.4 L678.8,177.4 L678.0,179.5 L679.0,181.5 L678.9,183.5 L678.9,185.5 L677.0,186.3 L675.2,187.4 L673.4,189.8 L670.7,191.1 L671.4,193.0 L671.9,195.0 L673.0,196.7 L671.7,199.4 L671.8,202.3 L672.6,204.6 L672.0,206.7 L671.5,208.9 L673.6,209.6 L674.4,211.7 L676.2,213.2 L678.2,213.9 L680.4,214.5 L682.6,215.3 L682.6,218.3 L684.9,219.1 L686.1,221.3 L688.3,222.0 L690.1,223.3 L692.5,223.8 L693.9,225.7 L695.3,227.7 L694.6,230.0 L695.0,232.2 M695.0,232.2 L695.5,234.7 L695.4,237.2 L696.1,239.7 L696.5,242.0 L698.3,243.8 L698.3,246.2 L700.8,247.0 L702.1,249.1 L703.7,250.9 L705.5,251.9 L706.1,254.2 L707.8,255.4 L709.5,256.5 L709.7,258.7 L710.2,260.9 L710.7,263.0 L709.2,264.4 L708.9,266.8 L707.1,268.0 L705.8,269.6 L703.7,270.8 L701.3,270.5 L699.5,271.9 L700.2,274.7 L698.3,276.1 L697.2,278.1 L698.3,280.7 L696.8,282.6 L695.4,284.3 L694.9,286.6 L693.7,288.3 L692.4,290.1 L691.1,292.4 L692.4,295.3 L690.9,297.6 L692.5,299.1 L691.5,301.6 L693.1,303.2 L694.8,305.1 L697.2,306.3 L698.3,308.8 L698.5,311.2 L699.7,313.0 L702.4,313.9 L702.8,316.2 L704.9,316.8 L707.2,316.9 L709.1,318.0 L711.0,319.1 L710.4,321.3 L710.3,323.7 L710.2,326.4 L708.4,328.6 L708.0,331.2 L710.2,331.9 L711.5,333.5 L712.0,335.9 L714.0,336.8 L715.8,338.0 L717.5,339.5 L718.9,341.2 L720.7,342.4 L720.8,345.2 L720.7,348.0 L722.6,349.7 L724.8,351.1 L725.6,353.6 L725.3,356.0 L725.9,358.3 L723.5,359.1 L721.8,360.6 L720.7,362.9 L720.0,366.7 L718.9,368.4 L718.8,370.5 L717.7,372.3 L717.1,374.3 L715.5,375.8 L714.6,377.7 L714.0,379.7 L714.3,382.0 L713.6,384.1 L712.8,386.1 L712.1,388.1 L710.9,389.8 L709.1,391.0 L708.5,393.1 L707.3,394.7 L707.5,396.9 L705.1,398.2 L705.2,400.3 L704.3,402.2 L703.1,404.0 L702.6,406.2 L701.1,407.8 L699.8,409.6 L699.1,411.6 L697.4,413.1 L697.8,415.6 L696.1,417.1 L696.0,419.3 L696.7,421.6 L695.6,423.8 L697.0,426.1 L695.9,428.3 L697.0,430.5 L697.5,432.9 L697.4,435.4 L698.3,437.6 L700.0,439.1 L699.8,441.4 L698.6,443.3 L697.7,445.5 L696.3,447.3 L694.6,448.8 L693.9,451.0 L692.2,452.9 L692.4,455.4 L691.7,457.4 L690.0,459.2 L690.9,461.8 L688.6,463.3 L688.8,465.7 M627.1,286.7 L687.4,286.7 L692.1,290.5 M644.3,362.9 L711.0,362.9 L711.8,366.7 L707.7,372.3 L717.7,372.3 M725.6,353.6 L728.2,352.2 L731.2,351.7 L733.2,350.8 L734.9,349.6 L736.4,348.0 L739.4,347.3 L741.6,345.2 L741.2,342.9 L741.5,340.8 L742.4,338.7 L744.7,337.0 L747.6,336.8 L749.8,336.8 L751.4,338.5 L753.6,338.7 L755.2,337.0 L757.6,336.9 L759.5,335.9 L762.0,336.2 L764.0,337.7 L766.0,335.5 L768.5,334.0 L770.4,332.9 L772.8,332.8 L774.5,331.2 L776.1,329.9 L776.7,327.4 L778.6,326.4 L779.9,324.7 L781.9,323.7 L784.3,323.5 L786.2,322.5 L787.9,320.9 L789.4,319.0 L790.4,316.8 L790.6,314.4 L793.0,314.9 L795.4,314.4 L796.6,316.6 L798.7,317.7 L801.3,318.2 L802.8,320.0 L804.5,321.6 L806.8,321.8 L808.8,322.8 L811.4,323.0 L813.8,322.3 L816.3,321.9 L818.2,323.0 L820.2,324.2 L821.9,325.6 L823.7,327.1 L825.1,325.5 L826.6,323.8 L829.2,323.7 L830.4,321.9 L831.8,319.7 L831.9,317.2 L834.3,316.6 L835.6,314.7 L837.0,313.1 L838.6,311.6 L841.0,310.5 L842.1,307.8 L844.6,306.9 L846.6,305.3 L848.0,303.1 L849.8,301.3 L849.9,299.2 L850.7,297.3 L852.1,295.7 L852.9,292.9 L853.6,290.1 L853.6,287.7 L854.8,285.6 M750.1,264.7 L750.1,309.7 M750.1,309.7 L750.6,312.0 L749.0,314.0 L749.1,316.2 L749.5,319.1 L750.6,321.9 L748.5,323.2 L748.5,325.9 L746.8,327.5 L746.3,329.6 L744.4,330.9 L743.9,333.1 L742.9,335.8 L742.7,338.7 M790.7,264.7 L790.7,314.4 M755.1,264.7 L790.7,264.7 L811.0,265.3 M703.7,250.9 L746.1,250.9 M707.0,174.9 L707.9,176.9 L710.8,176.6 L711.4,179.1 L713.3,179.9 L715.9,179.8 L718.0,182.2 L720.7,181.8 L723.5,181.4 L725.5,183.8 L728.2,183.7 L730.3,184.6 L732.5,185.5 L734.6,186.4 L737.1,185.9 L739.7,187.1 L741.6,189.3 L743.7,190.9 L745.4,193.0 L745.7,195.5 L746.8,197.7 L748.4,199.8 L749.1,202.3 M720.7,362.9 L742.1,362.9 L742.1,359.6 L758.0,360.3 L773.0,361.1 L787.9,361.1 L807.6,361.1 L837.5,361.1 M798.0,390.9 L799.4,389.5 L801.2,388.4 L802.8,387.2 L803.4,384.4 L804.3,381.6 L806.3,381.2 L808.3,380.8 L810.3,380.7 L812.7,379.6 L814.8,377.9 L816.8,376.5 L819.2,376.0 L821.7,374.4 L823.7,372.3 L825.5,370.3 L828.2,370.4 L830.3,369.5 L832.7,369.5 L834.2,366.7 L835.0,364.7 L835.7,362.7 L837.5,361.3 M807.6,361.1 L809.5,360.2 L811.7,359.8 L813.3,358.3 L815.8,357.9 L817.0,355.4 L819.2,354.5 L821.8,353.6 L823.7,351.7 L826.2,350.2 L828.2,348.0 L830.1,347.0 L831.0,344.8 L833.1,344.3 L830.7,343.7 L829.7,341.5 L828.0,340.2 L826.7,338.7 L826.2,336.5 L824.2,335.2 L823.7,333.1 L823.7,330.1 L823.7,327.1 M896.6,310.3 L893.8,311.1 L891.0,310.5 L888.3,310.0 L885.5,310.2 L884.4,312.1 L883.3,314.0 L881.4,315.3 L880.0,317.0 L878.3,318.7 L876.7,320.4 L875.0,322.1 L873.3,323.7 L870.8,324.9 L868.0,325.0 L867.1,327.1 L864.9,328.3 L863.9,330.4 L862.9,332.6 L860.9,334.2 L859.3,336.1 L858.5,338.5 L856.9,340.5 L855.8,342.7 L855.8,345.3 L853.6,346.3 L851.4,346.7 L849.0,346.6 L846.9,346.5 L845.0,347.3 L843.1,348.6 L840.9,348.0 L838.8,348.0 L837.0,349.3 L836.3,347.2 L833.9,346.4 L833.1,344.3 M870.3,302.8 L869.9,305.2 L869.7,307.7 L870.2,310.1 L870.3,312.5 L872.3,311.4 L874.1,310.0 L876.8,310.0 L878.2,307.8 L880.3,306.5 L882.4,305.3 L884.9,305.0 L887.0,303.6 L889.4,303.2 L891.8,303.6 L893.9,305.0 L895.6,307.5 L896.6,310.3 M896.6,310.3 L897.5,312.9 L899.8,314.4 L901.7,315.7 L903.6,316.8 L905.8,317.2 L906.6,320.0 L904.4,321.3 L903.6,323.7 L905.2,325.8 L905.8,328.4 L907.5,330.0 L909.6,331.2 L911.0,332.9 L912.9,333.8 L915.1,334.1 L917.0,334.9 M807.6,362.0 L924.2,362.0 M708.8,390.9 L812.5,390.9 M882.4,411.5 L867.3,394.8 L850.6,394.1 L849.1,389.5 L846.0,388.0 L840.0,387.3 L825.6,386.8 L819.0,389.0 L814.7,392.7 L812.3,396.0 M812.5,396.0 L815.2,397.1 L817.0,399.4 L818.2,401.2 L819.8,402.7 L821.5,404.0 L822.8,405.9 L824.6,407.4 L824.9,410.0 L826.7,411.5 L827.4,413.7 L829.2,415.2 L830.4,417.1 L832.3,418.5 L834.2,419.9 L835.8,421.2 L837.4,422.6 L838.0,424.8 L838.8,426.7 L840.1,428.3 L841.8,430.3 L841.0,433.2 L842.9,435.1 L843.1,437.6 L844.4,439.3 L845.6,441.0 L845.4,443.2 L846.8,445.7 L849.5,446.4 M740.1,390.9 L741.6,392.8 L740.1,409.6 L736.4,448.8 L736.4,465.7 L737.1,476.9 M778.9,390.9 L785.2,431.1 M785.2,431.1 L784.9,433.5 L787.3,435.1 L788.2,437.1 L787.9,439.5 L786.6,441.9 L788.1,444.6 L787.1,447.0 L787.7,449.5 L786.3,451.9 L786.4,454.4 L787.0,456.6 L786.1,459.0 L787.9,461.1 L786.6,463.5 L787.9,465.7 M749.1,465.7 L787.9,465.7 M749.1,465.7 L752.1,473.1 L751.3,478.7 M788.1,465.4 L789.4,471.0 L820.4,473.0 L831.1,475.0 L833.8,468.9 L840.6,471.0 M854.8,260.6 L854.8,302.8 M854.8,302.8 L925.4,302.8 M866.1,260.2 L931.9,260.2 L935.7,264.0 L937.5,269.6 L941.8,272.4 M866.1,260.2 L866.1,255.2 M941.8,272.4 L939.6,273.4 L938.0,275.0 L936.6,276.7 L935.7,278.9 L935.8,281.5 L934.2,283.6 L934.7,286.0 L935.7,288.2 L936.9,290.0 L937.9,292.0 L938.6,293.9 L939.4,295.7 L936.4,297.6 L935.2,299.5 L933.3,300.6 L931.2,301.3 L928.2,300.7 L925.4,300.7 M941.8,272.4 L953.6,278.9 M925.4,302.8 L925.4,326.5 L936.4,326.5 M933.6,334.9 L927.5,335.9 L923.7,336.8 M957.3,278.9 L956.3,277.0 L958.8,273.3 L959.7,259.3 L963.0,246.4 L963.3,230.3 L961.0,230.9 L961.0,222.9 L961.8,213.5 L961.8,204.2 M989.4,204.0 L988.9,206.4 L989.4,208.9 L987.6,210.9 L987.2,213.5 L986.2,215.6 L983.4,215.9 L982.7,218.2 L982.2,220.8 L980.5,222.9 L979.2,224.6 L979.4,227.0 L977.1,228.2 L976.7,230.3 L977.0,233.0 L975.3,235.2 L975.2,237.8 L974.7,240.0 L974.6,242.3 L975.2,244.5 L975.1,246.8 M963.0,246.4 L975.1,246.8 L992.4,247.2 L996.9,244.9 L999.6,244.0 M995.7,198.6 L997.3,232.2 L1001.4,240.1 M959.7,259.3 L984.9,259.9 L991.2,259.9 L992.4,264.9 L995.1,269.6 M984.9,259.9 L984.5,272.7 M812.5,390.9 L812.5,396.0" fill="none" stroke="#000" stroke-width="2.5" stroke-linejoin="round" stroke-linecap="round"/>
<path d="M195.1,140.2 L205.0,142.5 L214.0,144.5 L222.7,145.6 L224.0,141.0 L222.5,134.0 L224.1,129.5 L636.4,129.5 L636.4,122.6 L641.7,122.6 L642.4,130.2 L645.5,133.9 L651.5,135.5 L660.6,137.7 L666.7,136.2 L672.7,137.7 L678.8,141.5 L684.8,143.0 L690.9,145.3 L698.5,143.8 L706.1,146.1 L712.1,146.8 L719.7,147.6 L718.2,149.1 L706.1,155.2 L693.9,162.0 L684.8,168.0 L680.3,171.1 L686.4,172.0 L692.4,170.5 L697.7,168.2 L700.8,168.9 L700.0,172.0 L700.5,174.2 L705.3,175.0 L710.6,174.2 L715.2,171.2 L720.5,169.7 L726.5,167.4 L731.8,163.6 L735.6,159.8 L740.2,157.6 L746.2,157.6 L747.0,159.8 L741.7,162.9 L737.9,167.4 L737.1,169.7 L741.7,168.9 L747.0,169.7 L750.8,172.0 L754.5,174.3 L762.6,175.4 L770.7,173.3 L780.8,171.3 L788.9,171.3 L790.9,176.4 L799.0,176.4 L801.0,180.4 L805.0,185.5 L809.1,185.5 L804.6,186.2 L800.6,185.2 L796.6,185.7 L789.1,186.8 L784.5,185.3 L779.2,184.5 L771.7,186.1 L766.4,187.6 L758.8,186.8 L755.0,191.0 L751.0,196.0 L747.0,203.0 L744.0,208.0 L742.1,212.3 L745.0,209.0 L750.0,203.0 L755.0,197.0 L759.5,191.0 L762.0,189.0 L760.5,194.0 L756.0,201.0 L752.0,208.0 L752.0,211.8 L750.5,217.9 L748.2,225.0 L746.5,230.0 L744.4,237.0 L745.2,240.0 L746.4,245.0 L746.0,250.8 L746.4,256.0 L748.9,261.0 L751.0,265.3 L755.3,266.9 L759.5,265.3 L763.7,262.7 L767.0,256.8 L769.6,250.1 L769.6,245.0 L768.7,240.0 L766.7,237.0 L765.6,222.4 L767.1,216.4 L768.6,210.3 L771.7,206.5 L775.5,205.0 L777.7,206.0 L778.4,209.0 L780.0,209.4 L781.5,205.0 L781.5,201.2 L783.0,198.2 L785.3,193.6 L788.0,190.0 L791.0,189.0 L796.0,189.5 L802.6,191.3 L808.7,195.3 L812.7,199.3 L813.7,203.4 L812.1,212.3 L809.1,218.4 L804.0,226.5 L808.1,229.5 L814.1,223.4 L820.2,222.4 L823.2,228.5 L824.2,238.6 L825.3,244.6 L822.2,248.7 L820.2,254.7 L816.2,258.8 L812.1,262.8 L812.1,265.9 L820.2,268.9 L830.3,268.9 L840.4,266.9 L848.5,262.8 L854.5,260.8 L866.7,256.8 L876.8,246.7 L876.8,236.6 L886.9,234.5 L897.0,235.6 L909.1,233.5 L916.2,230.5 L918.2,223.4 L917.2,218.4 L921.2,216.4 L929.3,208.3 L937.4,204.2 L941.4,203.8 L980.0,203.6 L989.1,202.3 L990.6,198.5 L995.2,198.5 L999.7,195.5 L1004.2,190.9 L1006.5,184.8 L1007.3,180.3 L1011.1,172.7 L1016.4,166.7 L1020.9,159.1 L1023.9,157.6 L1026.2,161.4 L1031.5,160.6 L1037.6,159.8 L1042.1,162.9 L1045.2,165.9 L1045.9,172.7 L1045.9,180.3 L1045.9,190.9 L1049.7,193.2 L1050.5,198.5 L1054.2,201.5 L1055.0,206.1 L1051.2,209.1 L1046.7,210.6 L1042.1,212.1 L1036.1,212.1 L1030.0,213.6 L1027.0,216.7 L1026.5,221.1 L1022.4,223.1 L1016.4,225.1 L1010.3,226.1 L1007.3,230.2 L1004.2,235.2 L1001.2,239.2 L1000.2,242.3 L999.7,245.3 L1001.2,248.3 L998.2,251.4 L996.2,253.4 L998.2,255.4 L1002.2,257.4 L1004.2,261.5 L1006.6,262.3 L1009.5,262.2 L1008.3,260.6 L1007.7,258.9 L1010.1,258.0 L1012.4,259.8 L1013.2,263.0 L1011.3,265.5 L1005.4,265.2 L1000.7,266.0 L998.9,265.3 L994.2,267.7 L991.8,266.5 L989.5,268.9 L987.1,270.0 L978.9,271.2 L967.1,273.6 L957.7,275.9 L952.0,278.5 L958.8,276.8 L969.4,275.1 L978.9,275.6 L984.8,275.9 L982.4,278.3 L973.0,283.0 L963.6,286.0 L953.0,287.7 L947.1,287.7 L950.6,288.9 L951.8,292.4 L950.6,300.0 L946.7,307.3 L940.6,313.3 L938.2,317.2 L934.0,312.0 L930.0,307.5 L932.5,313.0 L935.5,318.0 L936.8,319.4 L936.8,325.5 L934.5,331.5 L930.0,339.1 L925.5,346.7 L923.2,354.2 L923.9,358.8 L925.0,362.0 L926.4,367.6 L929.4,375.2 L930.9,379.7 L929.4,385.8 L920.3,390.3 L914.2,394.8 L908.2,396.4 L902.1,399.4 L896.1,405.5 L893.0,410.0 L888.5,411.5 L880.9,413.0 L874.8,420.6 L870.3,426.7 L862.7,432.7 L853.6,438.8 L849.1,444.8 L847.3,448.1 L843.3,456.2 L839.9,462.9 L840.6,471.0 L843.3,480.4 L845.9,489.8 L850.0,501.9 L852.7,512.7 L853.8,520.6 L858.5,533.2 L861.7,541.1 L861.7,547.5 L860.9,558.5 L859.3,566.5 L855.4,572.0 L850.6,574.4 L845.9,572.8 L844.3,566.5 L841.1,561.7 L836.4,558.5 L833.2,550.6 L831.6,544.3 L826.9,539.6 L823.7,531.6 L820.6,523.7 L820.6,515.8 L822.2,507.9 L820.6,500.0 L819.0,499.2 L811.0,492.5 L805.6,484.4 L800.2,482.4 L793.5,487.1 L786.7,490.5 L782.0,489.5 L779.6,483.6 L776.1,480.0 L771.4,477.7 L764.3,476.5 L758.4,477.7 L750.2,478.9 L743.1,478.9 L737.2,476.5 L730.1,477.7 L723.1,480.0 L725.4,481.2 L723.1,484.7 L719.5,488.3 L720.7,491.8 L725.4,497.7 L727.8,500.7 L723.1,503.6 L719.5,498.0 L713.6,494.2 L710.1,500.1 L705.4,498.9 L700.7,501.8 L697.1,498.9 L693.6,495.4 L688.9,490.6 L685.4,487.1 L681.8,488.3 L679.5,492.4 L671.2,490.0 L664.1,487.7 L656.7,488.2 L650.6,489.7 L641.5,494.2 L633.9,501.8 L623.3,507.9 L614.2,513.9 L606.7,521.5 L602.9,530.6 L602.1,536.7 L603.6,545.8 L606.7,559.4 L605.2,559.6 L596.0,558.6 L587.0,556.4 L577.9,550.3 L573.3,539.7 L570.3,530.6 L561.2,518.5 L555.2,507.9 L550.6,498.8 L541.5,488.9 L529.4,486.7 L522.6,491.2 L520.3,498.8 L515.8,503.3 L507.1,499.5 L501.7,496.8 L496.3,491.4 L493.6,484.7 L492.3,479.3 L489.6,473.9 L484.2,469.9 L480.2,465.8 L474.8,460.4 L471.4,457.7 L469.4,455.0 L466.4,451.5 L441.4,451.5 L441.4,459.5 L398.8,459.5 L342.9,437.8 L344.3,433.5 L308.4,437.1 L306.6,432.4 L305.6,427.4 L302.5,422.3 L298.5,418.3 L293.4,414.7 L290.4,414.2 L289.4,411.2 L287.4,408.7 L280.3,408.2 L277.3,405.2 L273.2,401.6 L259.6,400.6 L256.1,398.1 L256.5,392.0 L254.4,389.3 L253.1,383.9 L249.1,381.2 L242.3,371.8 L236.9,365.0 L237.6,361.0 L238.3,354.9 L234.2,354.2 L230.2,350.2 L228.2,343.5 L227.5,336.0 L225.7,336.4 L221.4,334.7 L220.8,330.0 L218.3,327.0 L213.6,321.6 L210.2,316.2 L208.9,310.8 L209.5,305.4 L207.5,301.4 L203.5,296.0 L200.1,291.9 L200.8,286.5 L203.5,279.8 L204.1,273.1 L203.5,265.5 L201.8,260.0 L200.5,257.3 L199.8,249.3 L198.5,243.9 L200.5,235.8 L203.2,227.7 L205.2,216.9 L206.5,203.5 L207.2,190.0 L206.6,179.3 L206.6,173.9 L205.2,167.2 L202.5,160.4 L198.5,151.0 Z" fill="none" stroke="#000" stroke-width="2.5" stroke-linejoin="round"/>
<path d="M223.6,128.8 L225.2,131.1 L227.4,133.3 L229.7,135.6 L230.5,140.2 L231.2,143.9 L233.5,147.7 L232,153.8 L232.7,158.3 L230.5,162.9 L226.7,166.7 L222.1,165.9 L219.1,162.9 L218.3,158.3 L219.8,153.8 L222.9,149.2 L224.4,146.2 L223.6,144.7 L223.6,142.4 L221.4,140.2 L218.3,138.6 L217.6,135.6 L220,133.5 L222.5,132 Z" fill="#000"/><path d="M205.5,165 L209,166.5 L210,168.5 L207,170 L205.5,169 Z M206,174 L209,175 L208.5,178 L206.5,178 Z" fill="#000"/><g fill="#3288BD"><path d="M248,232 L252,229 L255,228 L258,226 L259,228 L255,231 L250,233.5 Z"/><path d="M271,220 L275,219 L276,221 L273,222 Z"/><path d="M278,221 L281,220.5 L282,223 L279,223.5 Z"/><path d="M273,228 L275,227 L276,231 L274,231.5 Z"/></g><path d="M819.5,521 L824,520.5 L827.5,523 L826.5,527.5 L822,528.5 L820,526 Z M827,540 L831,539.5 L832.5,542.5 L829.5,544.5 L827.5,543 Z M844.5,570 L848,569.5 L849.5,573 L846.5,574.8 L844.5,573 Z" fill="#000"/><path d="M227.5,336 L230,333 L233,334 L234,337 L231,340 L232,345 L229,345 L228,340 Z" fill="#000"/><path d="M706.8,480.2 L710.2,476.8 L715.3,479.4 L718.6,481.9 L715.3,482.7 L708.5,482.7 Z" fill="none" stroke="#000" stroke-width="2.4"/><path d="M742,477.5 L742.3,470.5 L744,469.5 L745,477" fill="none" stroke="#000" stroke-width="2"/><path d="M922,305 L913.7,310 L912,316.8 L913.7,323.6 L907,330.3 L910.3,337 L908.6,343.8 L910.3,348.8 L915.4,353.9 L920.4,355.6 M925.5,305 L917,313.5 L915.4,321.9 L920.4,330.3 L925.5,333.7 L922,342.1 L920.4,350.5 L922.5,354.5 M901.9,325.3 L907,329 L913.7,333.7 M908.6,335.4 L913,338 L918.7,342.1 M908.6,343.8 L913,346 L918.7,348.8 M906.9,348.8 L913,351 L920.4,353.9 M919,310 L921,318 L918,326" fill="none" stroke="#000" stroke-width="2.4" stroke-linejoin="round"/><path d="M910.3,367.3 L918.7,367.3 L922,372.4 L920.4,377.4 L913.7,379.1 L908.6,382.5 L913.7,385.9 L906.9,389.2 L910.3,394.3 L903.6,397.6 M915,370 L912,374 L917,376 M923,362 L926,368" fill="none" stroke="#000" stroke-width="2.4" stroke-linejoin="round"/><path d="M952,278.5 L958,276 L969,274 L979,272 L985,272.5 L985,275.9 L979,275.6 L969.4,275.1 L958.8,276.8 Z" fill="#000"/><path d="M998.5,270.5 L1003,269.5 L1005,271 L1002,273.5 L999,273 Z M1008,272 L1011,271 L1013.5,272.5 L1013,275 L1009.5,275.3 Z" fill="#000"/><g fill="#5E4FA2"><path d="M259,408 L266,407.5 L273,408.5 L270,410.5 L263,410 Z"/><path d="M271,423 L274.5,424 L273.5,426 Z"/><path d="M286,419.3 L290.5,420.5 L290,422.8 L287,422 Z"/><path d="M286,427 L288,428 L291,432.5 L289,433 Z"/></g><path d="M819,585 L828,584.5 L838,582.5 L846,579.5 L853,575.5 L858.5,570.5" fill="none" stroke="#5E4FA2" stroke-width="1.8" stroke-dasharray="3 2.2"/><g fill="#5E4FA2"><path d="M777,188.5 L781,188 L782,191 L779,193.5 L777.5,192 Z"/><path d="M774,195.5 L776,195 L776,197.5 L774.5,197.5 Z"/><path d="M769.5,203 L772,200.5 L773.2,202 L771,205 L769.5,205 Z"/><path d="M759,194.5 L761.5,194 L761.8,197 L759.5,197.5 Z"/><path d="M805,183 L810.5,183.5 L810.7,186.5 L806,186.5 Z"/></g><path d="M725,149 L737,143.5 L738,145 L726,150.5 Z" fill="#66C2A5"/><path d="M401.5,130.2 L407.0,133.0 L413.8,136.4 L420.0,137.2 L428.6,137.9 L437.2,142.2 L445.8,145.0 L455.8,146.5 L465.8,146.5 L474.4,148.6 L479.5,150.0 L484.4,153.6 L490.0,152.5 L494.4,152.2 L499.0,155.0 L503.0,157.9 L508.7,162.2 L514.3,166.5 L518.0,170.0 L521.5,173.6 L522.9,179.3 L525.7,187.9 L528.6,185.1 L533.0,185.5 L538.6,185.1 L547.2,183.6 L552.9,186.5 L560.0,189.4 L567.2,192.2 L575.8,193.6 L581.5,191.5 L585.8,197.9 L593.0,196.5 L600.1,195.1 L605.8,190.8 L608.7,185.8 L611.6,189.4 L613.6,190.1 L622.2,192.9 L633.6,197.2 L642.2,197.2 L647.9,192.9 L656.5,193.6 L666.5,191.5 L670.8,194.4 L679.4,190.1 L682.2,188.6 L690.8,192.9 L698.0,197.2 L709.4,197.2 L712.1,192.4 L712.9,189.4 L715.2,186.4 L715.9,181.8 L712.9,178.8 L706.8,178.0 L697.7,178.8 L694.0,176.5 L693.2,174.2 L688.6,175.0 L682.6,175.8 L680.3,172.7 L680.5,170.0 L685.4,165.7 L692.1,160.3 L698.9,154.9 L705.6,151.5 L712.3,149.5 L719.1,148.2 L722.0,147.2" fill="none" stroke="#FF00FF" stroke-width="3" stroke-linejoin="round" stroke-linecap="round"/><path d="M512.1,130.7 L514.3,133.6 L517.1,137.9 L519.3,141.4 L520.0,139.3 L517.9,135.7 L519.3,132.1 L522.1,132.9 L526.4,131.4 L529.3,132.9 L535.0,132.9 L538.6,130.7 L542.9,131.4 L546.4,134.3 L550.7,135.0 L556.4,135.0 L557.9,132.1 L560.7,130.7 L562.1,132.1 L559.3,135.0 L560.7,136.4 L565.7,135.7 L566.4,137.1 L564.3,139.3 L560.7,140.0 L557.9,138.6 L556.4,135.7" fill="none" stroke="#0000EE" stroke-width="2.8" stroke-linejoin="round" stroke-linecap="round"/><path d="M579.3,130.7 L579.3,134.3 L584.3,134.3 L587.1,137.1 L590.7,140.7 L593.6,139.3 L593.6,134.3 L590.0,131.4 L587.1,130.7 L585.7,132.9" fill="none" stroke="#0000EE" stroke-width="2.8" stroke-linejoin="round" stroke-linecap="round"/><path d="M651.1,136.7 L655.1,140.8 L658.5,144.8 L660.5,149.5 L661.2,151.5 L664.5,150.2 L666.5,152.9 L673.3,153.6 L677.3,156.9 L681.4,160.3 L684.1,162.3 L686.8,161.6 L684.7,158.3 L683.4,155.6 L685.4,153.6 L688.8,152.9 L690.8,152.2 L689.4,148.9 L688.1,146.8 L691.0,146.2 L694.8,146.8 L698.2,146.2 L701.6,148.2 L704.9,148.2 L708.3,146.8 L711.7,146.2" fill="none" stroke="#0000EE" stroke-width="2.8" stroke-linejoin="round" stroke-linecap="round"/><path d="M657.1,138.8 L660.5,137.4 L663.2,136.7 L661.8,140.1 L659.5,143.0" fill="none" stroke="#0000EE" stroke-width="2.8" stroke-linejoin="round" stroke-linecap="round"/><ellipse cx="395" cy="136.5" rx="2.2" ry="2.2" fill="#FF00FF"/><ellipse cx="399" cy="139" rx="2.8" ry="2.8" fill="#FF00FF"/><ellipse cx="447" cy="143" rx="2.5" ry="2.5" fill="#FF00FF"/><ellipse cx="451" cy="140" rx="2.5" ry="2" fill="#FF00FF"/><ellipse cx="446" cy="152" rx="2.3" ry="2.3" fill="#FF00FF"/><ellipse cx="454" cy="152" rx="3.5" ry="1.8" fill="#FF00FF"/><ellipse cx="444" cy="157" rx="1.6" ry="1.6" fill="#FF00FF"/><ellipse cx="548" cy="191" rx="1.8" ry="1.8" fill="#FF00FF"/><ellipse cx="607.3" cy="197.2" rx="1.6" ry="1.6" fill="#FF00FF"/><ellipse cx="452" cy="145" rx="2.5" ry="2.5" fill="#FF00FF"/><ellipse cx="406.4" cy="208.6" rx="2.2" ry="2" fill="#FF00FF"/><ellipse cx="403.6" cy="215" rx="1.8" ry="2" fill="#FF00FF"/><ellipse cx="412.9" cy="235" rx="1.6" ry="2" fill="#FF00FF"/><ellipse cx="418.6" cy="247.2" rx="2.4" ry="2.6" fill="#FF00FF"/><ellipse cx="426.5" cy="245" rx="1.8" ry="2.6" fill="#FF00FF"/><ellipse cx="458" cy="216.4" rx="1.6" ry="2.6" fill="#FF00FF"/><ellipse cx="461.7" cy="320" rx="1.8" ry="2.2" fill="#FF00FF"/><ellipse cx="517.5" cy="149" rx="0.8" ry="0.8" fill="#FF00FF"/>
<g font-family="Liberation Sans, sans-serif" fill="#000" style="filter:grayscale(1)"><text x="375.94" y="37.7" font-size="21" font-weight="bold" textLength="503.36" lengthAdjust="spacingAndGlyphs">Spotted lanternfly: Cold stress units 12/15/2025</text><text x="288.94" y="70.8" font-size="17" font-weight="normal" textLength="677.26" lengthAdjust="spacingAndGlyphs">Maps and modeling 12/15/2025 by Oregon State University IPPC USPEST.ORG and</text><text x="362.04" y="92.7" font-size="17" font-weight="normal" textLength="530.86" lengthAdjust="spacingAndGlyphs">USDA-APHIS-PPQ; climate data from OSU PRISM Climate Group</text><text x="1085.78" y="227.2" font-size="17" font-weight="bold" textLength="108.70" lengthAdjust="spacingAndGlyphs">Stress Limits</text><text x="1085.68" y="297.8" font-size="17" font-weight="bold" textLength="96.72" lengthAdjust="spacingAndGlyphs">Cold Stress</text><text x="1085.67" y="316.4" font-size="17" font-weight="bold" textLength="43.95" lengthAdjust="spacingAndGlyphs">Units</text><text x="1109.9" y="248.8" font-size="13.9" textLength="94.89" lengthAdjust="spacingAndGlyphs">Stress limit 1</text><text x="1109.9" y="265.8" font-size="13.9" textLength="94.89" lengthAdjust="spacingAndGlyphs">Stress limit 2</text><text x="1109.4" y="338.60" font-size="13.6" textLength="33.53" lengthAdjust="spacingAndGlyphs">0-59</text><text x="1109.4" y="355.57" font-size="13.6" textLength="50.92" lengthAdjust="spacingAndGlyphs">59-118</text><text x="1109.4" y="372.54" font-size="13.6" textLength="60.23" lengthAdjust="spacingAndGlyphs">118-177</text><text x="1109.4" y="389.51" font-size="13.6" textLength="61.47" lengthAdjust="spacingAndGlyphs">177-236</text><text x="1109.4" y="406.48" font-size="13.6" textLength="61.47" lengthAdjust="spacingAndGlyphs">236-295</text><text x="1109.4" y="423.45" font-size="13.6" textLength="61.47" lengthAdjust="spacingAndGlyphs">295-354</text><text x="1109.4" y="440.42" font-size="13.6" textLength="61.47" lengthAdjust="spacingAndGlyphs">354-413</text><text x="1109.4" y="457.39" font-size="13.6" textLength="61.47" lengthAdjust="spacingAndGlyphs">413-472</text><text x="1109.4" y="474.36" font-size="13.6" textLength="61.47" lengthAdjust="spacingAndGlyphs">472-531</text><text x="1109.4" y="491.33" font-size="13.6" textLength="61.47" lengthAdjust="spacingAndGlyphs">531-590</text></g><line x1="1087.8" y1="244.2" x2="1101.4" y2="244.2" stroke="#FF00FF" stroke-width="1.2"/><line x1="1087.8" y1="261.2" x2="1101.4" y2="261.2" stroke="#0000FF" stroke-width="1.2"/><rect x="1086.1" y="324.90" width="16.8" height="17.1" fill="#5E4FA2"/><rect x="1086.1" y="341.87" width="16.8" height="17.1" fill="#3288BD"/><rect x="1086.1" y="358.84" width="16.8" height="17.1" fill="#66C2A5"/><rect x="1086.1" y="375.81" width="16.8" height="17.1" fill="#ABDDA4"/><rect x="1086.1" y="392.78" width="16.8" height="17.1" fill="#E6F598"/><rect x="1086.1" y="409.75" width="16.8" height="17.1" fill="#FEE08B"/><rect x="1086.1" y="426.72" width="16.8" height="17.1" fill="#FDAE61"/><rect x="1086.1" y="443.69" width="16.8" height="17.1" fill="#F46D43"/><rect x="1086.1" y="460.66" width="16.8" height="17.1" fill="#D53E4F"/><rect x="1086.1" y="477.63" width="16.8" height="17.1" fill="#9E0142"/></svg>
</body></html>
